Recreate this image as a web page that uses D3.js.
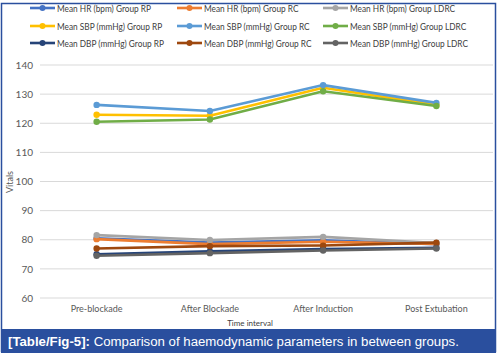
<!DOCTYPE html>
<html><head><meta charset="utf-8">
<script src="https://cdn.jsdelivr.net/npm/d3@7"></script>
<style>body{margin:0;background:#fff}svg{display:block}</style>
</head><body><svg id="c" width="500" height="358"></svg>
<script>
const categories = ["Pre-blockade","After Blockade","After Induction","Post Extubation"];
const seriesNames = [
 "Mean HR (bpm) Group RP","Mean HR (bpm) Group RC","Mean HR (bpm) Group LDRC",
 "Mean SBP (mmHg) Group RP","Mean SBP (mmHg) Group RC","Mean SBP (mmHg) Group LDRC",
 "Mean DBP (mmHg) Group RP","Mean DBP (mmHg) Group RC","Mean DBP (mmHg) Group LDRC"];
const hrRP = [80.5, 79.0, 79.8, 78.5];
const hrRC = [80.2, 78.5, 79.3, 78.6];
const hrLDRC = [81.6, 79.9, 81.0, 78.9];
const sbpRP = [122.9, 122.6, 132.2, 126.3];
const sbpRC = [126.3, 124.2, 133.1, 127.0];
const sbpLDRC = [120.5, 121.3, 131.0, 125.9];
const dbpRP = [75.0, 76.0, 76.8, 77.2];
const dbpRC = [77.0, 77.8, 78.0, 79.0];
const dbpLDRC = [74.5, 75.4, 76.3, 77.0];
const yTicks = [60,70,80,90,100,110,120,130,140];
const colors = ["#4472C4","#ED7D31","#A5A5A5","#FFC000","#5B9BD5","#70AD47","#264478","#9E480E","#636363"];
const allValues = [hrRP,hrRC,hrLDRC,sbpRP,sbpRC,sbpLDRC,dbpRP,dbpRC,dbpLDRC];

const FONT = "Lato, 'Liberation Sans', Arial, sans-serif";
function fit(sel, target){
  const w = sel.node().getComputedTextLength();
  const s = parseFloat(sel.attr("font-size"));
  sel.attr("font-size", s*target/w);
}

const svg = d3.select("#c");
svg.append("rect").attr("x",1.5).attr("y",3.5).attr("width",494).attr("height",348)
  .attr("fill","#fff").attr("stroke","#2a4f9e").attr("stroke-width",1.5);

const x = d3.scaleBand().domain(categories).range([40,493]);
const y = d3.scaleLinear().domain([60,140]).range([298,65]);

svg.append("g").selectAll("line").data(yTicks).join("line")
  .attr("x1",40).attr("x2",493).attr("y1",d=>y(d)).attr("y2",d=>y(d))
  .attr("stroke","#d9d9d9").attr("stroke-width",1);

const yAxis = svg.append("g").attr("transform","translate(35,0)")
  .call(d3.axisLeft(y).tickValues(yTicks).tickSize(0).tickPadding(2));
yAxis.select(".domain").remove();
yAxis.selectAll("text").attr("font-family",FONT).attr("font-size",10).attr("fill","#595959");

const xAxis = svg.append("g").attr("transform","translate(0,304)")
  .call(d3.axisBottom(x).tickSize(0).tickPadding(2));
xAxis.select(".domain").remove();
xAxis.selectAll("text").attr("font-family",FONT).attr("font-size",9).attr("fill","#595959");

svg.append("text").attr("x",250).attr("y",326).attr("text-anchor","middle")
  .attr("font-family",FONT).attr("font-size",8).attr("fill","#404040")
  .text("Time interval");
svg.append("text").attr("transform","translate(13,182) rotate(-90)").attr("text-anchor","middle")
  .attr("font-family",FONT).attr("font-size",9).attr("fill","#595959")
  .text("Vitals");

const line = d3.line().x((d,i)=>x(categories[i])+x.bandwidth()/2).y(d=>y(d));
allValues.forEach((vals,k)=>{
  const g = svg.append("g");
  g.append("path").datum(vals).attr("d",line).attr("fill","none")
    .attr("stroke",colors[k]).attr("stroke-width",2.6).attr("stroke-linejoin","round");
  g.selectAll("circle").data(vals).join("circle")
    .attr("cx",(d,i)=>x(categories[i])+x.bandwidth()/2).attr("cy",d=>y(d)).attr("r",3.2)
    .attr("fill",colors[k]);
});

// legend
const legX = [30,177,323], legY = [8,26,43];
const legTexts = [];
seriesNames.forEach((n,k)=>{
  const cx = legX[k%3], cy = legY[Math.floor(k/3)];
  const g = svg.append("g");
  g.append("line").attr("x1",cx).attr("x2",cx+25).attr("y1",cy).attr("y2",cy)
    .attr("stroke",colors[k]).attr("stroke-width",2.6);
  g.append("circle").attr("cx",cx+12.5).attr("cy",cy).attr("r",3).attr("fill",colors[k]);
  legTexts.push(g.append("text").attr("x",cx+27).attr("y",cy+3.5)
    .attr("font-family",FONT).attr("font-size",10).attr("fill","#404040")
    .text(n));
});
const w8 = legTexts[8].node().getComputedTextLength();
const f = 118 / w8;
legTexts.forEach(t=>{
  const w = t.node().getComputedTextLength();
  t.attr("textLength", w*f).attr("lengthAdjust","spacingAndGlyphs");
});

// caption
svg.append("rect").attr("x",1).attr("y",329).attr("width",495).attr("height",24).attr("fill","#2a4f9e");
const cap = svg.append("text").attr("x",8).attr("y",346)
  .attr("font-family","'Liberation Sans', Arial, Helvetica, sans-serif").attr("font-size",14).attr("fill","#fff");
cap.append("tspan").attr("font-weight","bold").text("[Table/Fig-5]:");
cap.append("tspan").text(" Comparison of haemodynamic parameters in between groups.");
fit(cap, 451);
</script></body></html>
